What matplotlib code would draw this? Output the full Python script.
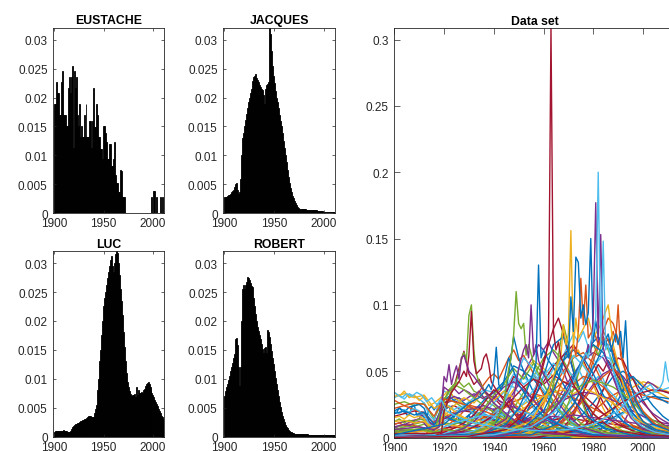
import matplotlib
matplotlib.use("Agg")
import matplotlib.pyplot as plt
from matplotlib.ticker import FuncFormatter

plt.rcParams['font.family'] = ['Liberation Sans', 'DejaVu Sans']

# ---- yearly share of births for four names (1900..2011) ----
years = list(range(1900, 2012))

eustache = [
    .0189, .0189, .0227, .0208, .0208, .0170, .0170, .0227, .0246, .0170,
    .0170, .0170, .0151, .0151, .0217, .0236, .0208, .0236, .0255, .0113,
    .0246, .0217, .0236, .0170, .0151, .0189, .0132, .0151, .0132, .0132,
    .0170, .0132, .0189, .0132, .0131, .0131, .0160, .0160, .0113, .0160,
    .0216, .0149, .0149, .0189, .0170, .0131, .0131, .0111, .0111, .0094,
    .0151, .0151, .0138, .0123, .0093, .0093, .0120, .0120, .0082, .0082,
    .0094, .0123, .0066, .0053, .0053, .0036, .0036, .0075, .0073, .0028,
    .0028, .0028, 0, 0, 0, 0, 0, 0, 0, 0,
    0, 0, 0, 0, 0, 0, 0, 0, 0, 0,
    0, 0, 0, 0, 0, 0, 0, 0, 0, .0028,
    0, .0038, .0038, 0, .0028, 0, 0, 0, .0028, 0,
    .0028, 0]

jacques = [
    .0028, .0028, .0029, .0030, .0031, .0032, .0034, .0037, .0039, .0041,
    .0046, .0051, .0052, .0040, .0034, .0036, .0060, .0100, .0130, .0138,
    .0150, .0162, .0172, .0182, .0192, .0200, .0207, .0215, .0228, .0235,
    .0238, .0240, .0234, .0230, .0226, .0222, .0218, .0215, .0213, .0205,
    .0188, .0215, .0222, .0224, .0226, .0321, .0310, .0280, .0255, .0238,
    .0225, .0212, .0200, .0193, .0182, .0170, .0160, .0150, .0138, .0125,
    .0112, .0100, .0088, .0075, .0062, .0052, .0043, .0036, .0030, .0026,
    .0022, .0018, .0014, .0011, .0009, .0008, .0008, .0008, .0007, .0007,
    .0007, .0007, .0007, .0006, .0006, .0006, .0006, .0006, .0005, .0005,
    .0005, .0005, .0005, .0005, .0004, .0004, .0004, .0004, .0004, .0004,
    .0003, .0003, .0003, .0003, .0003, .0003, .0003, .0002, .0002, .0002,
    .0002, .0002]

luc = [
    .0008, .0009, .0009, .0010, .0009, .0010, .0010, .0009, .0010, .0011,
    .0010, .0010, .0009, .0008, .0007, .0008, .0010, .0013, .0016, .0018,
    .0020, .0021, .0022, .0023, .0023, .0025, .0026, .0027, .0028, .0028,
    .0030, .0031, .0030, .0032, .0033, .0035, .0036, .0035, .0034, .0033,
    .0034, .0040, .0048, .0055, .0080, .0100, .0130, .0150, .0175, .0200,
    .0225, .0240, .0250, .0262, .0275, .0285, .0295, .0305, .0312, .0295,
    .0285, .0300, .0315, .0321, .0318, .0300, .0280, .0255, .0235, .0210,
    .0180, .0155, .0130, .0110, .0095, .0085, .0078, .0073, .0070, .0072,
    .0071, .0073, .0068, .0085, .0072, .0080, .0076, .0075, .0077, .0076,
    .0080, .0083, .0087, .0090, .0092, .0094, .0090, .0086, .0080, .0076,
    .0072, .0068, .0063, .0060, .0057, .0052, .0048, .0044, .0040, .0036,
    .0033, .0030]

robert = [
    .0070, .0078, .0085, .0090, .0097, .0105, .0113, .0120, .0128, .0135,
    .0142, .0168, .0170, .0158, .0120, .0088, .0120, .0200, .0255, .0262,
    .0255, .0262, .0268, .0276, .0275, .0270, .0265, .0260, .0258, .0240,
    .0225, .0212, .0200, .0190, .0182, .0176, .0168, .0160, .0152, .0145,
    .0153, .0155, .0145, .0185, .0180, .0172, .0160, .0148, .0136, .0125,
    .0113, .0102, .0090, .0080, .0070, .0060, .0051, .0043, .0036, .0030,
    .0025, .0020, .0017, .0014, .0011, .0009, .0008, .0007, .0006, .0006,
    .0005, .0005, .0005, .0005, .0005, .0004, .0004, .0004, .0004, .0004,
    .0004, .0004, .0004, .0004, .0004, .0003, .0003, .0003, .0003, .0003,
    .0003, .0003, .0003, .0003, .0003, .0003, .0003, .0003, .0003, .0003,
    .0002, .0002, .0002, .0002, .0002, .0002, .0002, .0002, .0002, .0002,
    .0002, .0002]

names = ['EUSTACHE', 'JACQUES', 'LUC', 'ROBERT']
name_series = [eustache, jacques, luc, robert]

# ---- other names of the data set, read every two years (1900..2010) ----
years2 = list(range(1900, 2011, 2))

b01 = [.030, .032, .029, .033, .031, .029, .026, .017, .013, .027,
       .035, .033, .030, .027, .024, .021, .018, .016, .013, .011,
       .010, .008, .007, .006, .005, .004, .003, .003, .002, .002,
       .001, .001, .001, .001, 0, 0, 0, 0, 0, 0,
       0, 0, 0, 0, 0, 0, 0, 0, 0, 0,
       0, 0, 0, 0, 0, 0]
b02 = [.020, .022, .019, .023, .024, .025, .022, .012, .009, .018,
       .028, .031, .028, .030, .026, .024, .021, .023, .018, .016,
       .014, .012, .011, .009, .007, .006, .005, .004, .003, .002,
       .002, .001, .001, .001, .001, .001, 0, 0, 0, 0,
       0, 0, 0, 0, 0, 0, 0, 0, 0, 0,
       0, 0, 0, 0, 0, 0]
b03 = [.034, .031, .035, .030, .032, .028, .031, .024, .026, .029,
       .032, .036, .030, .028, .025, .022, .020, .017, .015, .012,
       .011, .009, .008, .006, .005, .004, .004, .003, .002, .002,
       .001, .001, .001, .001, .001, .001, .001, 0, 0, 0,
       0, 0, 0, 0, 0, 0, 0, 0, 0, 0,
       0, 0, 0, 0, 0, 0]
b04 = [.006, .007, .008, .009, .010, .011, .012, .009, .007, .015,
       .028, .036, .040, .042, .038, .041, .035, .033, .030, .026,
       .024, .020, .018, .016, .012, .010, .008, .006, .005, .004,
       .003, .002, .002, .001, .001, .001, .001, 0, 0, 0,
       0, 0, 0, 0, 0, 0, 0, 0, 0, 0,
       0, 0, 0, 0, 0, 0]
b05 = [.002, .002, .003, .003, .004, .005, .006, .005, .004, .012,
       .024, .030, .038, .052, .065, .048, .040, .044, .036, .032,
       .030, .026, .022, .028, .020, .016, .013, .010, .008, .006,
       .005, .004, .003, .002, .002, .001, .001, .001, 0, 0,
       0, 0, 0, 0, 0, 0, 0, 0, 0, 0,
       0, 0, 0, 0, 0, 0]
b06 = [.001, .001, .001, .002, .002, .002, .003, .002, .002, .004,
       .008, .010, .013, .016, .020, .024, .028, .034, .040, .045,
       .048, .044, .052, .060, .066, .058, .062, .055, .048, .040,
       .032, .025, .018, .013, .009, .006, .004, .003, .002, .001,
       .001, .001, 0, 0, 0, 0, 0, 0, 0, 0,
       0, 0, 0, 0, 0, 0]
b07 = [0, 0, 0, 0, 0, 0, .001, .001, .001, .001,
       .002, .003, .003, .004, .005, .006, .008, .010, .012, .014,
       .016, .018, .022, .028, .034, .040, .048, .055, .062, .070,
       .066, .072, .064, .058, .050, .040, .030, .022, .015, .010,
       .007, .005, .003, .002, .002, .001, .001, .001, .001, .001,
       .001, .001, .001, .001, .001, .001]
b08 = [0, 0, 0, 0, 0, 0, 0, 0, 0, 0,
       0, 0, .001, .001, .001, .001, .001, .002, .002, .002,
       .002, .003, .004, .005, .006, .008, .011, .014, .018, .024,
       .030, .038, .046, .055, .062, .070, .078, .072, .080, .068,
       .060, .052, .044, .035, .026, .018, .012, .008, .005, .003,
       .002, .002, .001, .001, .001, .001]
b09 = [0, 0, 0, 0, 0, 0, 0, 0, 0, 0,
       0, 0, 0, 0, 0, 0, 0, 0, 0, 0,
       0, 0, 0, 0, 0, .001, .002, .003, .004, .005,
       .007, .010, .014, .020, .027, .035, .044, .052, .060, .066,
       .072, .076, .070, .074, .064, .050, .036, .024, .015, .010,
       .007, .005, .004, .003, .002, .002]
b10 = [.004, .004, .003, .004, .003, .003, .003, .002, .002, .002,
       .002, .002, .002, .001, .001, .001, .001, .001, .001, .001,
       .001, .001, .001, .001, .001, .001, .001, .001, .001, .001,
       .001, .001, .001, .001, .001, .001, .001, .002, .002, .003,
       .004, .008, .013, .020, .027, .033, .038, .042, .044, .043,
       .040, .037, .035, .034, .032, .030]
b11 = [.012, .014, .011, .013, .012, .014, .013, .009, .007, .011,
       .016, .015, .014, .013, .015, .012, .013, .011, .012, .010,
       .011, .012, .014, .015, .013, .012, .011, .010, .009, .008,
       .008, .007, .006, .006, .005, .005, .004, .004, .003, .003,
       .003, .002, .002, .002, .002, .002, .002, .001, .001, .001,
       .001, .001, .001, .001, .001, .001]
b12 = [0, 0, 0, 0, 0, 0, 0, 0, 0, 0,
       0, 0, 0, 0, 0, 0, 0, 0, 0, 0,
       .001, .001, .002, .003, .004, .008, .014, .022, .032, .045,
       .058, .070, .082, .090, .078, .065, .050, .038, .026, .017,
       .011, .007, .005, .003, .002, .001, .001, 0, 0, 0,
       0, 0, 0, 0, 0, 0]
b13 = [0, 0, 0, 0, 0, 0, 0, 0, 0, 0,
       0, 0, 0, 0, 0, 0, 0, 0, 0, 0,
       0, 0, 0, 0, 0, 0, 0, 0, 0, 0,
       .001, .002, .003, .004, .006, .010, .016, .024, .034, .046,
       .058, .068, .080, .090, .086, .074, .058, .040, .026, .016,
       .010, .007, .005, .004, .003, .002]
b14 = [0, 0, 0, 0, 0, 0, 0, 0, 0, 0,
       0, 0, 0, 0, 0, 0, 0, 0, 0, 0,
       0, 0, 0, 0, 0, 0, 0, 0, 0, 0,
       0, 0, 0, 0, 0, 0, 0, 0, 0, 0,
       .001, .001, .002, .003, .004, .006, .010, .018, .026, .033,
       .038, .042, .040, .037, .035, .034]
b15 = [.020, .018, .021, .019, .022, .020, .017, .010, .008, .012,
       .022, .024, .021, .023, .020, .021, .018, .019, .017, .015,
       .016, .013, .018, .016, .013, .011, .009, .008, .006, .005,
       .004, .003, .003, .002, .002, .001, .001, .001, .001, 0,
       0, 0, 0, 0, 0, 0, 0, 0, 0, 0,
       0, 0, 0, 0, 0, 0]
b16 = [0, 0, 0, 0, 0, 0, 0, 0, 0, 0,
       0, 0, 0, 0, 0, .002, .003, .004, .005, .007,
       .010, .014, .024, .048, .076, .060, .050, .042, .034, .026,
       .019, .013, .009, .006, .004, .002, .002, .001, .001, 0,
       0, 0, 0, 0, 0, 0, 0, 0, 0, 0,
       0, 0, 0, 0, 0, 0]
b17 = [0, 0, 0, 0, 0, 0, 0, 0, 0, 0,
       0, 0, 0, 0, 0, 0, 0, 0, 0, 0,
       0, 0, 0, 0, 0, .002, .004, .006, .010, .016,
       .024, .034, .044, .052, .058, .064, .060, .066, .056, .048,
       .040, .030, .022, .015, .010, .007, .005, .003, .002, .001,
       .001, .001, .001, 0, 0, 0]
b18 = [0, 0, 0, 0, 0, 0, 0, 0, 0, 0,
       0, 0, 0, 0, 0, 0, 0, 0, 0, 0,
       0, 0, 0, 0, 0, 0, 0, 0, 0, 0,
       .003, .005, .008, .012, .018, .026, .036, .048, .058, .064,
       .070, .062, .074, .066, .056, .044, .032, .022, .014, .009,
       .006, .004, .003, .002, .002, .001]
b19 = [0, 0, 0, 0, 0, 0, 0, 0, 0, 0,
       0, 0, 0, 0, 0, 0, 0, 0, 0, 0,
       0, 0, 0, 0, 0, 0, 0, 0, 0, 0,
       0, 0, 0, 0, 0, .002, .003, .005, .008, .012,
       .018, .026, .036, .046, .054, .060, .058, .050, .044, .036,
       .028, .022, .017, .013, .010, .008]
b20 = [.010, .011, .009, .010, .009, .008, .007, .005, .004, .006,
       .007, .006, .005, .005, .004, .004, .003, .003, .002, .002,
       .002, .001, .001, .001, .001, .001, .001, .001, .001, .001,
       .001, .002, .002, .003, .004, .005, .007, .009, .012, .015,
       .019, .023, .026, .030, .032, .034, .036, .035, .034, .033,
       .032, .031, .030, .029, .028, .027]
b21 = [.008, .009, .010, .009, .011, .012, .011, .006, .005, .010,
       .038, .035, .037, .033, .036, .034, .031, .035, .030, .032,
       .034, .028, .026, .030, .024, .020, .016, .013, .010, .008,
       .006, .005, .004, .003, .002, .002, .001, .001, .001, .001,
       0, 0, 0, 0, 0, 0, 0, 0, 0, 0,
       0, 0, 0, 0, 0, 0]
b22 = [.001, .001, .001, .001, .001, .001, .001, .001, .001, .002,
       .003, .004, .005, .006, .007, .008, .009, .011, .013, .015,
       .018, .022, .026, .038, .044, .040, .046, .042, .048, .044,
       .050, .045, .052, .047, .055, .050, .046, .052, .044, .048,
       .042, .046, .040, .036, .032, .028, .024, .020, .017, .014,
       .012, .010, .009, .008, .007, .006]
b23 = [0, 0, 0, 0, 0, 0, 0, 0, 0, 0,
       0, 0, 0, 0, 0, 0, 0, 0, 0, 0,
       0, 0, 0, 0, 0, 0, 0, 0, 0, 0,
       0, 0, 0, 0, 0, 0, .001, .001, .001, .002,
       .003, .005, .008, .013, .020, .028, .036, .044, .046, .042,
       .038, .035, .033, .030, .028, .026]
b24 = [.015, .016, .014, .017, .015, .016, .014, .008, .006, .011,
       .019, .017, .018, .016, .015, .014, .012, .013, .011, .010,
       .009, .008, .009, .007, .006, .006, .005, .005, .004, .004,
       .003, .003, .003, .002, .002, .002, .002, .002, .002, .001,
       .001, .001, .001, .001, .001, .001, .001, .001, .001, .001,
       .001, .001, .001, .001, .001, .001]
b25 = [0, 0, 0, 0, 0, 0, 0, 0, 0, 0,
       0, 0, 0, 0, 0, 0, 0, 0, 0, 0,
       0, 0, 0, 0, 0, .001, .002, .003, .005, .008,
       .014, .024, .040, .062, .085, .070, .055, .038, .024, .014,
       .008, .005, .003, .002, .001, .001, 0, 0, 0, 0,
       0, 0, 0, 0, 0, 0]
b26 = [0, 0, 0, 0, 0, 0, 0, 0, 0, 0,
       0, 0, 0, 0, 0, 0, 0, 0, 0, 0,
       0, 0, 0, 0, 0, 0, 0, 0, 0, 0,
       .001, .002, .003, .005, .008, .012, .018, .026, .034, .042,
       .048, .055, .050, .058, .052, .046, .040, .032, .024, .017,
       .012, .009, .007, .005, .004, .003]

background = [b01, b02, b03, b04, b05, b06, b07, b08, b09, b10, b11, b12, b13,
              b14, b15, b16, b17, b18, b19, b20, b21, b22, b23, b24, b25, b26]

# ---- more names, read every four years (1900..2008, then 2011) ----
years4 = list(range(1900, 2009, 4)) + [2011]

f01 = [.025, .027, .024, .026, .014, .030, .027, .022, .018, .015,
       .012, .009, .007, .005, .004, .003, .002, .001, .001, 0,
       0, 0, 0, 0, 0, 0, 0, 0, 0]
f02 = [.016, .018, .020, .019, .010, .022, .024, .020, .019, .016,
       .013, .011, .009, .007, .005, .004, .003, .002, .001, .001,
       0, 0, 0, 0, 0, 0, 0, 0, 0]
f03 = [.028, .024, .021, .018, .011, .015, .012, .010, .008, .006,
       .005, .004, .003, .002, .002, .001, .001, .001, 0, 0,
       0, 0, 0, 0, 0, 0, 0, 0, 0]
f04 = [.010, .012, .013, .014, .009, .026, .031, .028, .033, .029,
       .031, .025, .020, .015, .010, .007, .005, .003, .002, .001,
       .001, 0, 0, 0, 0, 0, 0, 0, 0]
f05 = [.003, .004, .005, .006, .004, .012, .018, .024, .030, .036,
       .034, .040, .038, .030, .022, .015, .010, .006, .004, .002,
       .001, .001, 0, 0, 0, 0, 0, 0, 0]
f06 = [.001, .001, .002, .002, .002, .006, .010, .014, .020, .028,
       .034, .042, .054, .050, .044, .034, .024, .016, .010, .006,
       .004, .002, .001, .001, 0, 0, 0, 0, 0]
f07 = [0, 0, 0, .001, .001, .002, .003, .005, .008, .012,
       .018, .026, .036, .048, .058, .052, .046, .036, .024, .015,
       .009, .005, .003, .002, .001, .001, 0, 0, 0]
f08 = [0, 0, 0, 0, 0, .001, .001, .002, .003, .005,
       .008, .014, .022, .034, .046, .060, .066, .058, .044, .030,
       .018, .010, .006, .003, .002, .001, .001, 0, 0]
f09 = [0, 0, 0, 0, 0, 0, .001, .001, .002, .003,
       .004, .007, .012, .020, .030, .042, .054, .062, .070, .058,
       .042, .026, .015, .009, .005, .003, .002, .001, .001]
f10 = [0, 0, 0, 0, 0, 0, 0, .001, .001, .002,
       .003, .004, .006, .010, .016, .026, .038, .050, .060, .064,
       .056, .040, .026, .015, .009, .005, .003, .002, .001]
f11 = [0, 0, 0, 0, 0, 0, 0, 0, .001, .001,
       .002, .003, .004, .006, .010, .016, .024, .036, .048, .058,
       .064, .060, .046, .030, .018, .010, .006, .004, .003]
f12 = [0, 0, 0, 0, 0, 0, 0, 0, 0, 0,
       .001, .001, .002, .003, .005, .008, .013, .020, .030, .042,
       .054, .062, .058, .044, .028, .016, .010, .006, .004]
f13 = [0, 0, 0, 0, 0, 0, 0, 0, 0, 0,
       0, 0, .001, .001, .002, .003, .005, .008, .012, .018,
       .026, .036, .046, .050, .044, .034, .024, .016, .012]
f14 = [0, 0, 0, 0, 0, 0, 0, 0, 0, 0,
       0, 0, 0, 0, .001, .001, .002, .003, .004, .006,
       .009, .014, .022, .030, .038, .042, .040, .036, .034]
f15 = [.008, .009, .008, .010, .006, .011, .010, .012, .011, .010,
       .012, .011, .013, .012, .011, .012, .010, .011, .009, .010,
       .008, .009, .007, .008, .006, .007, .006, .005, .005]
f16 = [.005, .006, .005, .006, .003, .007, .008, .007, .009, .008,
       .010, .009, .011, .013, .012, .014, .013, .015, .014, .013,
       .012, .011, .010, .009, .008, .007, .006, .005, .005]
f17 = [.002, .002, .003, .003, .002, .005, .007, .009, .012, .015,
       .018, .022, .027, .030, .033, .031, .035, .032, .030, .026,
       .022, .018, .014, .010, .008, .006, .004, .003, .002]
f18 = [.001, .001, .001, .001, .001, .002, .002, .003, .004, .005,
       .006, .008, .010, .013, .016, .020, .024, .028, .032, .034,
       .033, .031, .028, .024, .020, .016, .013, .011, .010]
f19 = [0, 0, .001, .001, .001, .003, .005, .008, .012, .018,
       .026, .034, .048, .040, .046, .036, .026, .018, .011, .007,
       .004, .002, .001, .001, 0, 0, 0, 0, 0]
f20 = [.018, .020, .017, .019, .010, .016, .013, .010, .008, .006,
       .005, .004, .003, .002, .002, .002, .002, .003, .004, .006,
       .008, .011, .015, .019, .024, .028, .031, .030, .029]
f21 = [.031, .033, .030, .032, .022, .026, .020, .015, .011, .008,
       .006, .004, .003, .002, .001, .001, 0, 0, 0, 0,
       0, 0, 0, 0, 0, 0, 0, 0, 0]
f22 = [.005, .006, .006, .007, .004, .028, .040, .036, .030, .024,
       .019, .015, .011, .008, .006, .004, .003, .002, .001, .001,
       0, 0, 0, 0, 0, 0, 0, 0, 0]
f23 = [.001, .001, .001, .002, .001, .004, .007, .011, .017, .026,
       .036, .030, .046, .038, .028, .019, .012, .008, .005, .003,
       .002, .001, .001, 0, 0, 0, 0, 0, 0]
f24 = [0, 0, 0, 0, 0, .001, .001, .002, .003, .004,
       .006, .009, .013, .018, .024, .030, .036, .042, .040, .046,
       .044, .038, .030, .022, .015, .010, .007, .005, .004]
f25 = [0, 0, 0, 0, 0, 0, 0, 0, 0, 0,
       0, .001, .001, .002, .003, .005, .008, .013, .020, .030,
       .040, .048, .052, .046, .036, .026, .018, .013, .010]
f26 = [.002, .002, .002, .002, .001, .002, .002, .001, .001, .001,
       .001, .001, .001, .001, .001, .001, .002, .002, .003, .004,
       .006, .009, .013, .018, .024, .030, .034, .036, .038]
f27 = [0, 0, 0, 0, 0, 0, 0, 0, .001, .002,
       .003, .005, .009, .016, .028, .046, .070, .076, .050, .028,
       .014, .007, .004, .002, .001, .001, 0, 0, 0]
f28 = [0, 0, 0, 0, 0, 0, 0, 0, 0, 0,
       0, 0, .001, .002, .003, .005, .008, .014, .024, .040,
       .062, .080, .066, .040, .022, .012, .007, .004, .003]
f29 = [.012, .013, .011, .012, .007, .010, .009, .008, .007, .006,
       .005, .005, .004, .004, .003, .003, .002, .002, .002, .002,
       .001, .001, .001, .001, .001, .001, .001, .001, .001]
f30 = [.004, .005, .005, .006, .004, .014, .018, .020, .022, .024,
       .021, .025, .023, .020, .017, .014, .011, .008, .006, .004,
       .003, .002, .002, .001, .001, .001, .001, .001, .001]
f31 = [0, 0, 0, .001, .001, .002, .004, .008, .014, .022,
       .032, .040, .052, .044, .056, .048, .038, .026, .016, .009,
       .005, .003, .002, .001, .001, 0, 0, 0, 0]
f32 = [0, 0, 0, 0, 0, 0, .001, .002, .003, .005,
       .008, .012, .018, .026, .036, .046, .056, .048, .062, .054,
       .044, .032, .020, .012, .007, .004, .002, .001, .001]
f33 = [0, 0, .001, .001, .001, .002, .003, .005, .008, .012,
       .017, .023, .030, .038, .044, .040, .047, .042, .038, .032,
       .025, .018, .012, .008, .005, .003, .002, .001, .001]
f34 = [0, 0, 0, 0, 0, 0, 0, 0, 0, 0,
       .001, .001, .002, .004, .007, .012, .020, .032, .046, .060,
       .070, .064, .050, .032, .018, .010, .006, .004, .003]
f35 = [0, 0, 0, 0, 0, 0, 0, 0, 0, 0,
       0, 0, .001, .001, .002, .004, .007, .012, .019, .028,
       .038, .046, .052, .044, .030, .018, .011, .007, .005]
f36 = [.003, .004, .004, .005, .003, .016, .024, .030, .026, .034,
       .028, .035, .030, .022, .015, .010, .006, .004, .002, .001,
       .001, 0, 0, 0, 0, 0, 0, 0, 0]
f37 = [.001, .001, .001, .002, .001, .002, .003, .004, .005, .006,
       .007, .008, .010, .012, .014, .015, .016, .015, .017, .016,
       .015, .014, .013, .012, .011, .010, .010, .009, .009]
f38 = [.006, .007, .006, .007, .004, .006, .005, .006, .005, .006,
       .007, .006, .008, .007, .008, .007, .008, .007, .006, .007,
       .006, .005, .006, .005, .004, .005, .004, .004, .004]
f39 = [0, 0, 0, 0, 0, .001, .002, .003, .005, .009,
       .015, .026, .042, .060, .052, .040, .026, .016, .009, .005,
       .003, .002, .001, 0, 0, 0, 0, 0, 0]
f40 = [0, 0, 0, 0, 0, 0, 0, 0, 0, 0,
       0, 0, 0, 0, 0, .001, .002, .003, .005, .008,
       .012, .017, .022, .027, .031, .034, .036, .035, .033]
f41 = [0, 0, 0, 0, 0, 0, 0, .001, .001, .002,
       .003, .005, .008, .013, .020, .030, .044, .058, .066, .060,
       .048, .032, .020, .012, .007, .004, .002, .001, .001]
f42 = [.022, .024, .026, .025, .016, .029, .027, .025, .022, .020,
       .017, .013, .010, .008, .006, .004, .003, .002, .001, .001,
       0, 0, 0, 0, 0, 0, 0, 0, 0]
f43 = [0, 0, 0, 0, 0, .001, .001, .002, .003, .005,
       .008, .012, .017, .022, .027, .031, .034, .036, .033, .037,
       .034, .030, .026, .020, .015, .011, .008, .006, .005]
f44 = [0, 0, 0, 0, 0, .002, .004, .007, .012, .020,
       .030, .038, .042, .036, .028, .020, .013, .008, .005, .003,
       .002, .001, .001, 0, 0, 0, 0, 0, 0]
f45 = [0, 0, 0, 0, 0, 0, 0, 0, .001, .001,
       .002, .003, .005, .008, .012, .017, .023, .030, .036, .040,
       .043, .041, .038, .033, .026, .019, .013, .009, .007]
f46 = [.002, .002, .003, .003, .002, .008, .011, .013, .015, .017,
       .016, .018, .020, .019, .017, .015, .012, .009, .007, .005,
       .004, .003, .002, .002, .001, .001, .001, .001, .001]

filler = [f01, f02, f03, f04, f05, f06, f07, f08, f09, f10, f11, f12, f13, f14, f15,
          f16, f17, f18, f19, f20, f21, f22, f23, f24, f25, f26, f27, f28, f29, f30,
          f31, f32, f33, f34, f35, f36, f37, f38, f39, f40, f41, f42, f43, f44, f45,
          f46]

# ---- names with sharp peaks (own year lists) ----
red63_x = [1900, 1930, 1945, 1950, 1954, 1957, 1959, 1960, 1961, 1962, 1963, 1964,
           1965, 1966, 1967, 1969, 1972, 1976, 1980, 1985, 1990, 2000, 2011]
red63_y = [0, .001, .006, .014, .025, .036, .048, .055, .062, .075, .309, .080,
           .066, .072, .060, .052, .040, .028, .018, .010, .005, .002, .001]

lblue82_x = [1900, 1940, 1955, 1965, 1970, 1973, 1975, 1977, 1978, 1979, 1980, 1981,
             1982, 1983, 1984, 1985, 1986, 1987, 1989, 1992, 1996, 2000, 2005, 2011]
lblue82_y = [0, .002, .008, .020, .034, .046, .055, .064, .060, .072, .080, .090,
             .200, .070, .148, .066, .070, .058, .044, .028, .014, .008, .004, .002]

purple81_x = [1900, 1945, 1960, 1968, 1972, 1975, 1977, 1978, 1979, 1980, 1981, 1982,
              1983, 1984, 1985, 1987, 1990, 1995, 2000, 2011]
purple81_y = [0, .002, .012, .030, .042, .055, .062, .070, .064, .090, .177, .072,
              .153, .068, .060, .050, .035, .015, .006, .002]

yellow71_x = [1900, 1940, 1955, 1962, 1965, 1967, 1968, 1969, 1970, 1971, 1972, 1973,
              1974, 1976, 1978, 1980, 1983, 1986, 1988, 1992, 1998, 2005, 2011]
yellow71_y = [0, .002, .012, .035, .052, .062, .085, .070, .078, .156, .068, .090,
              .075, .082, .090, .075, .085, .100, .070, .040, .015, .006, .003]

blue58_x = [1900, 1935, 1945, 1950, 1953, 1955, 1956, 1957, 1958, 1959, 1960, 1962,
            1965, 1968, 1972, 1978, 1985, 1995, 2011]
blue58_y = [0, .002, .010, .022, .034, .044, .050, .056, .130, .060, .066, .058,
            .050, .040, .028, .015, .007, .002, .001]

blue73_x = [1900, 1950, 1960, 1964, 1966, 1968, 1969, 1970, 1971, 1972, 1973, 1974,
            1975, 1976, 1977, 1978, 1979, 1980, 1981, 1982, 1984, 1986, 1988, 1990,
            1992, 1994, 1996, 2000, 2005, 2011]
blue73_y = [0, .004, .020, .035, .045, .058, .064, .060, .106, .080, .136, .132,
            .090, .100, .085, .094, .150, .072, .088, .076, .070, .078, .060, .052,
            .044, .034, .024, .012, .006, .003]

blue93_x = [1900, 1955, 1965, 1972, 1978, 1982, 1985, 1987, 1989, 1990, 1991, 1992,
            1993, 1994, 1995, 1997, 2000, 2004, 2011]
blue93_y = [0, .002, .010, .025, .045, .060, .072, .065, .078, .070, .080, .060,
            .088, .050, .040, .028, .018, .010, .005]

orange75_x = [1900, 1950, 1960, 1965, 1968, 1970, 1972, 1973, 1974, 1975, 1976, 1977,
              1978, 1980, 1982, 1984, 1986, 1988, 1989, 1990, 1991, 1992, 1994, 1997,
              2000, 2005, 2011]
orange75_y = [0, .003, .015, .030, .045, .055, .070, .062, .080, .120, .085, .115,
              .075, .082, .070, .076, .068, .080, .072, .100, .062, .055, .045, .030,
              .020, .010, .006]

green31_x = [1900, 1910, 1916, 1919, 1920, 1922, 1924, 1926, 1927, 1928, 1929, 1930,
             1931, 1932, 1933, 1934, 1936, 1938, 1940, 1944, 1950, 1960, 1970, 2011]
green31_y = [.004, .006, .004, .005, .018, .030, .038, .048, .060, .064, .058, .092,
             .100, .066, .048, .042, .036, .030, .026, .018, .008, .002, .001, 0]

red31_x = [1900, 1915, 1919, 1920, 1923, 1926, 1928, 1929, 1930, 1931, 1932, 1933,
           1935, 1936, 1937, 1938, 1939, 1941, 1944, 1950, 1960, 1975, 2011]
red31_y = [.003, .003, .004, .020, .034, .042, .050, .046, .062, .095, .058, .048,
           .052, .060, .063, .055, .042, .036, .028, .014, .004, .001, 0]

green49_x = [1900, 1930, 1940, 1944, 1945, 1946, 1947, 1948, 1949, 1950, 1951, 1952,
             1953, 1954, 1956, 1958, 1960, 1965, 1970, 1980, 2011]
green49_y = [0, .002, .010, .024, .040, .052, .060, .078, .110, .086, .082, .086,
             .062, .070, .056, .048, .040, .024, .012, .004, .001]

purple55_x = [1900, 1935, 1945, 1948, 1950, 1952, 1953, 1954, 1955, 1956, 1957, 1958,
              1960, 1963, 1966, 1970, 1975, 1985, 2011]
purple55_y = [0, .002, .014, .030, .052, .066, .070, .060, .100, .062, .070, .058,
              .048, .036, .026, .016, .008, .002, 0]

lblue09_x = [1900, 1903, 1905, 1907, 1909, 1911, 1913, 1915, 1917, 1919, 1921, 1925,
             1930, 1940, 1950, 1960, 1970, 1980, 1990, 1995, 2000, 2003, 2005, 2007,
             2008, 2009, 2010, 2011]
lblue09_y = [.034, .030, .033, .031, .034, .032, .027, .030, .025, .028, .020, .016,
             .012, .008, .006, .005, .006, .010, .020, .030, .036, .040, .035, .038,
             .042, .057, .044, .040]

purple22_x = [1900, 1910, 1916, 1918, 1919, 1920, 1921, 1922, 1923, 1924, 1925, 1926,
              1927, 1928, 1930, 1932, 1935, 1940, 1950, 1960, 2011]
purple22_y = [.006, .008, .006, .008, .024, .046, .042, .055, .040, .048, .054, .044,
              .060, .062, .050, .046, .038, .026, .010, .003, 0]

blue41_x = [1900, 1920, 1925, 1930, 1934, 1936, 1938, 1939, 1940, 1941, 1942, 1943,
            1944, 1946, 1948, 1950, 1955, 1960, 1970, 1980, 2011]
blue41_y = [.002, .010, .018, .026, .030, .034, .040, .036, .044, .068, .040, .036,
            .042, .060, .050, .040, .026, .016, .006, .002, 0]

# matlab default line colours
c_blue = (0, 0.447, 0.741)
c_orange = (0.85, 0.325, 0.098)
c_yellow = (0.929, 0.694, 0.125)
c_purple = (0.494, 0.184, 0.556)
c_green = (0.466, 0.674, 0.188)
c_lblue = (0.301, 0.745, 0.933)
c_red = (0.635, 0.078, 0.184)
mcolors = [c_blue, c_orange, c_yellow, c_purple, c_green, c_lblue, c_red]

peaks = [
    (green31_x, green31_y, c_green), (red31_x, red31_y, c_red),
    (purple22_x, purple22_y, c_purple), (blue41_x, blue41_y, c_blue),
    (green49_x, green49_y, c_green), (purple55_x, purple55_y, c_purple),
    (blue58_x, blue58_y, c_blue), (orange75_x, orange75_y, c_orange),
    (yellow71_x, yellow71_y, c_yellow), (blue93_x, blue93_y, c_blue),
    (blue73_x, blue73_y, c_blue), (purple81_x, purple81_y, c_purple),
    (lblue82_x, lblue82_y, c_lblue), (red63_x, red63_y, c_red),
    (lblue09_x, lblue09_y, c_lblue),
]

W, H = 669, 452
fig = plt.figure(figsize=(W / 100, H / 100), dpi=100)


def add_axes_px(left, top, right, bottom):
    return fig.add_axes([left / W, 1 - bottom / H, (right - left) / W, (bottom - top) / H])


def style(ax, ticklen):
    ax.tick_params(direction='in', top=True, right=True, length=ticklen, width=0.5,
                   color='0.15', labelcolor='0.15', labelsize=8.5)
    ax.tick_params(axis='x', pad=3)
    ax.tick_params(axis='y', pad=4)
    for sp in ax.spines.values():
        sp.set_linewidth(0.6)
        sp.set_color('0.15')
    ax.xaxis.set_major_formatter(FuncFormatter(lambda v, p: '%g' % v))
    ax.yaxis.set_major_formatter(FuncFormatter(lambda v, p: '%g' % v))


small_boxes = [(53.3, 28.5, 164.3, 214.3), (223.3, 28.5, 335.3, 214.3),
               (53.3, 252, 164.3, 437.5), (223.3, 252, 335.3, 437.5)]

for box, name, vals in zip(small_boxes, names, name_series):
    ax = add_axes_px(*box)
    ax.bar(years, vals, width=1.0, color='black', edgecolor='black', linewidth=0.6)
    ax.set_xlim(1898.8, 2011.5)
    ax.set_ylim(0, 0.0321)
    ax.set_xticks([1900, 1950, 2000])
    ax.set_yticks([0, 0.005, 0.01, 0.015, 0.02, 0.025, 0.03])
    style(ax, 2)
    ax.set_title(name, fontsize=8.8, fontweight='bold', pad=3)

# big panel, wider than the figure (cut on the right like the original)
big = add_axes_px(394.3, 29, 394.3 + 113 * 2.487, 438.5)
big.set_prop_cycle(color=mcolors)
lw = 1.0
for vals in name_series:
    big.plot(years, vals, linewidth=lw)
for k in range(max(len(background), len(filler))):
    if k < len(filler):
        big.plot(years4, filler[k], linewidth=lw)
    if k < len(background):
        big.plot(years2, background[k], linewidth=lw)
for xs, ys, col in peaks:
    big.plot(xs, ys, color=col, linewidth=lw)
big.set_xlim(1900, 2013)
big.set_ylim(0, 0.3087)
big.set_xticks([1900, 1920, 1940, 1960, 1980, 2000])
big.set_yticks([0, 0.05, 0.1, 0.15, 0.2, 0.25, 0.3])
style(big, 4)
big.set_title('Data set', fontsize=8.8, fontweight='bold', pad=3)

fig.savefig('out.png', dpi=100)
